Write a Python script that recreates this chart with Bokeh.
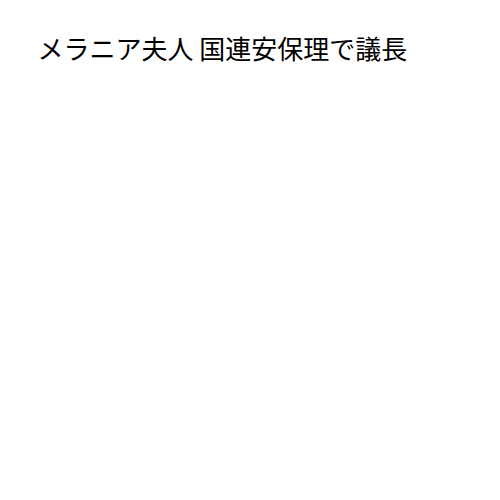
from bokeh.plotting import figure
from bokeh.models import Label
from bokeh.embed import file_html
from bokeh.resources import INLINE

title_text = "メラニア夫人 国連安保理で議長"

W, H = 484, 484
p = figure(width=W, height=H, output_backend="svg", toolbar_location=None,
           x_range=(0, W), y_range=(0, H),
           min_border=0)

# title written as a label, in pixel-like data units
title = Label(x=37, y=H - 28, text=title_text, text_baseline="top", text_align="left",
              text_font="Noto Sans CJK JP", text_font_size="26px", text_color="#000000")
p.add_layout(title)

p.axis.visible = False
p.grid.visible = False
p.outline_line_color = None
p.background_fill_color = "white"
p.border_fill_color = "white"

open("out.html", "w").write(file_html(p, INLINE))
